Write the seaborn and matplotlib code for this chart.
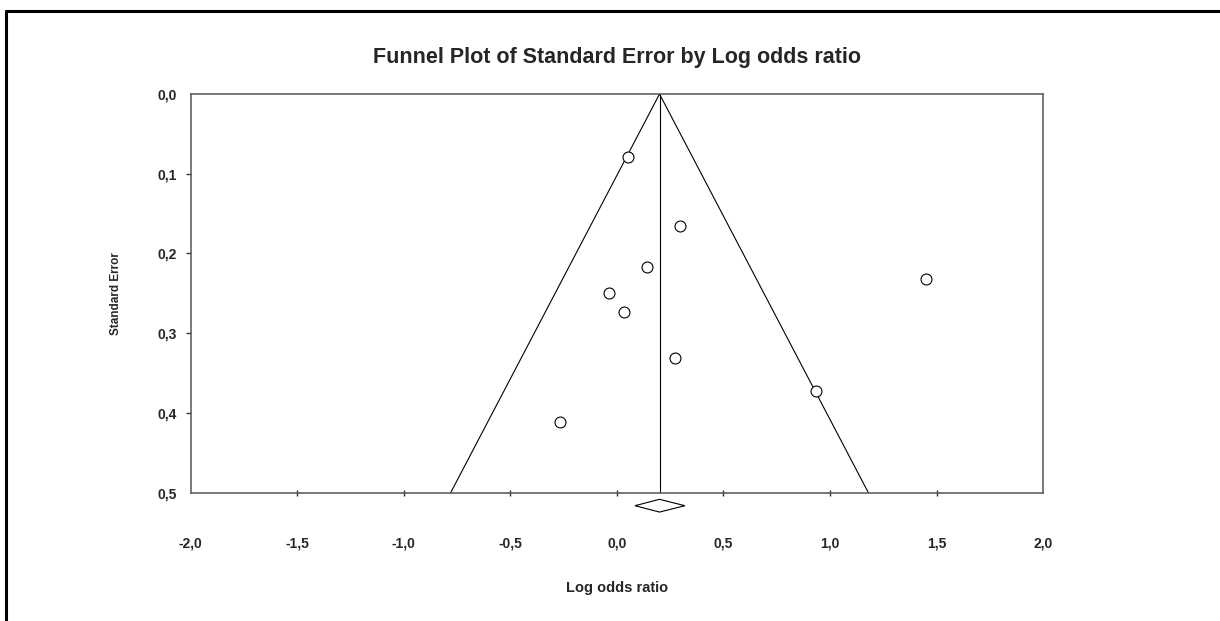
import seaborn as sns
import matplotlib.pyplot as plt
from matplotlib.lines import Line2D
import numpy as np
import pandas as pd

# study estimates
log_odds = [0.050, 0.298, 0.139, -0.037, 0.032, 0.272, -0.265, 1.449, 0.936]
std_err = [0.079, 0.165, 0.217, 0.249, 0.273, 0.331, 0.411, 0.232, 0.372]

# pooled estimate and its confidence interval (diamond)
pooled = 0.20
ci_low = 0.085
ci_high = 0.319

x_ticks = [-2.0, -1.5, -1.0, -0.5, 0.0, 0.5, 1.0, 1.5, 2.0]
y_ticks = [0.0, 0.1, 0.2, 0.3, 0.4, 0.5]

sns.set_style("white")
plt.rcParams['font.family'] = ['Liberation Sans', 'DejaVu Sans']
plt.rcParams['font.weight'] = 'bold'

df = pd.DataFrame({"Log odds ratio": log_odds, "Standard Error": std_err})

fig = plt.figure(figsize=(12.2, 6.21), dpi=100)
ax = fig.add_axes([0.1563, 0.2066, 0.6987, 0.642])

# funnel (pseudo 95% limits) and the vertical line at the pooled estimate
se_max = 0.5
ax.plot([pooled - 1.96 * se_max, pooled, pooled + 1.96 * se_max], [se_max, 0, se_max],
        color='black', lw=0.8)
ax.plot([pooled, pooled], [0, se_max], color='black', lw=0.8)

sns.scatterplot(data=df, x="Log odds ratio", y="Standard Error", ax=ax,
                marker='o', s=62, facecolor='white', edgecolor='black',
                linewidth=0.8, zorder=3)

# diamond under the axis
dy = 0.008
yd = se_max + 0.0163
ax.fill([ci_low, pooled, ci_high, pooled], [yd, yd - dy, yd, yd + dy],
        facecolor='white', edgecolor='black', lw=0.8, clip_on=False, zorder=4)

ax.set_xlim(-2.0, 2.0)
ax.set_ylim(0.5, 0.0)
ax.set_xticks(x_ticks)
ax.set_yticks(y_ticks)
ax.set_xticklabels([f"{v:.1f}".replace('.', ',') for v in x_ticks])
ax.set_yticklabels([f"{v:.1f}".replace('.', ',') for v in y_ticks])

for s in ['top', 'right', 'bottom', 'left']:
    ax.spines[s].set_color('#555555')
    ax.spines[s].set_linewidth(1.1)

ax.tick_params(axis='x', direction='inout', length=5, width=1, color='#333333',
               pad=29, labelsize=10, bottom=True)
ax.tick_params(axis='y', direction='out', length=3.5, width=1, color='#333333',
               pad=6.5, labelsize=10, left=True)

# no tick marks at the corners of the box
for t in [ax.xaxis.get_major_ticks()[0], ax.xaxis.get_major_ticks()[-1],
          ax.yaxis.get_major_ticks()[0], ax.yaxis.get_major_ticks()[-1]]:
    t.tick1line.set_visible(False)

ax.set_xlabel("Log odds ratio", fontsize=10.5, fontweight='bold')
ax.set_ylabel("Standard Error", fontsize=8.5, fontweight='bold')
ax.xaxis.set_label_coords(0.5, -0.2215)
ax.yaxis.set_label_coords(-0.0806, 0.5)
ax.set_title("Funnel Plot of Standard Error by Log odds ratio",
             fontsize=15.5, fontweight='bold', pad=22)

# frame around the picture (top and left edges)
fig.add_artist(Line2D([6 / 1220, 6 / 1220], [0, 1 - 11 / 621],
                      transform=fig.transFigure, color='black', lw=2.2))
fig.add_artist(Line2D([6 / 1220, 1], [1 - 11 / 621, 1 - 11 / 621],
                      transform=fig.transFigure, color='black', lw=2.2))

fig.savefig("out.png", dpi=100)
